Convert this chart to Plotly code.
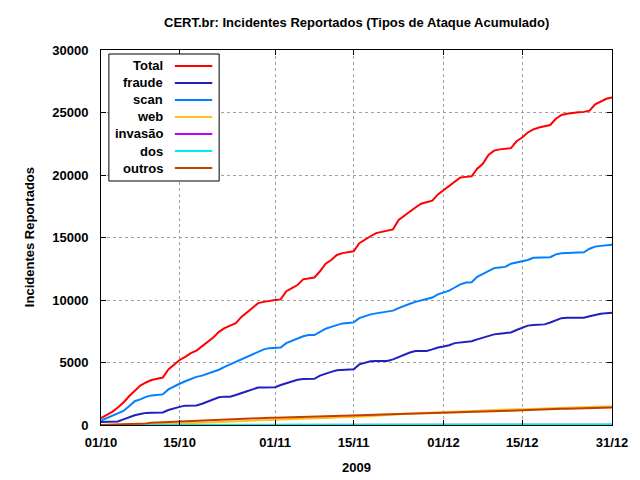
import datetime as dt
import plotly.graph_objects as go

start = dt.date(2009, 10, 1)
dates = [start + dt.timedelta(days=i) for i in range(92)]

total = [550, 800, 1050, 1400, 1800, 2300, 2750, 3150, 3400, 3600, 3700, 3800, 4450, 4850, 5200, 5450,
         5750, 5950, 6300, 6600, 7000, 7450, 7750, 7950, 8150, 8650, 9000, 9350, 9750, 9850, 9950,
         10000, 10050, 10700, 10950, 11200, 11650, 11750, 11800, 12300, 12900, 13200, 13600, 13750, 13800,
         13900, 14550, 14850, 15100, 15350, 15450, 15550, 15650, 16400, 16750, 17100, 17400, 17700, 17850,
         17950, 18450,
         18800, 19100, 19500, 19800, 19850, 19900, 20500, 20900, 21600, 21950, 22050, 22100, 22150, 22700,
         23000, 23400, 23650, 23800, 23900, 24000, 24500, 24800, 24900, 24980, 25020, 25050, 25150, 25650,
         25900, 26100, 26200]

fraude = [250, 260, 270, 280, 450, 620, 780, 880, 970, 990, 990, 1000, 1200, 1350, 1450, 1550,
          1550, 1560, 1700, 1870, 2050, 2220, 2270, 2270, 2400, 2580, 2700, 2850, 3000, 3010, 3010,
          3020, 3200, 3330, 3480, 3620, 3680, 3680, 3700, 3950, 4130, 4250, 4380, 4420, 4440,
          4460, 4850, 5000, 5100, 5120, 5120, 5130, 5250, 5450, 5650, 5800, 5920, 5920, 5930,
          6050, 6200,
          6280, 6380, 6550, 6590, 6600, 6700, 6850, 7000, 7150, 7250, 7300, 7330, 7400, 7600,
          7800, 7950, 8000, 8030, 8050, 8200, 8400, 8550, 8580, 8580, 8580, 8590, 8700, 8830,
          8900, 8950, 8980]

scan = [350, 550, 720, 950, 1120, 1500, 1900, 2050, 2250, 2370, 2400, 2450, 2850, 3100, 3300, 3500,
        3700, 3850, 3950, 4100, 4250, 4420, 4650, 4850, 5050, 5250, 5480, 5700, 5900, 6050, 6150,
        6180, 6200, 6550, 6750, 6900, 7100, 7200, 7200, 7450, 7700, 7850, 8000, 8130, 8170,
        8210, 8550, 8700, 8850, 8930, 8990, 9050, 9150, 9350, 9550, 9700, 9850, 9980, 10100,
        10200, 10450,
        10580, 10750, 11000, 11250, 11400, 11420, 11850, 12100, 12350, 12550, 12600, 12650, 12900, 12990,
        13050, 13200, 13380, 13390, 13390, 13420, 13650, 13740, 13760, 13780, 13800, 13820, 14100, 14270,
        14330, 14400, 14430]

web = [0, 0, 0, 0, 10, 20, 30, 40, 50, 60, 70, 80, 100, 110, 120, 130,
       140, 150, 170, 190, 220, 250, 270, 290, 300, 320, 340, 360, 380, 400, 420,
       430, 440, 450, 460, 470, 490, 510, 530, 550, 570, 590, 600, 610, 620,
       630, 650, 670, 700, 740, 780, 820, 850, 880, 900, 920, 940, 960, 980,
       1000, 1030,
       1060, 1080, 1100, 1120, 1140, 1160, 1180, 1200, 1210, 1220, 1230, 1240, 1250, 1260,
       1270, 1290, 1310, 1320, 1330, 1340, 1350, 1370, 1390, 1410, 1420, 1430, 1450, 1460,
       1470, 1480, 1490]

invasao = [0, 0, 0, 0, 0, 1, 1, 1, 2, 2, 2, 3, 3, 3, 4, 4,
           4, 5, 5, 5, 5, 6, 6, 6, 7, 7, 7, 8, 8, 8, 9,
           9, 9, 10, 10, 10, 10, 11, 11, 11, 12, 12, 12, 13, 13,
           13, 14, 14, 14, 15, 15, 15, 16, 16, 16, 17, 17, 17, 18,
           18, 18,
           19, 19, 19, 20, 20, 20, 21, 21, 21, 22, 22, 22, 23, 23,
           23, 24, 24, 24, 25, 25, 25, 26, 26, 26, 27, 27, 27, 28,
           28, 28, 29]

dos = [0, 0, 1, 1, 2, 2, 3, 3, 4, 4, 5, 5, 6, 6, 7, 7,
       8, 8, 9, 9, 10, 10, 11, 11, 12, 12, 13, 13, 14, 14, 15,
       15, 16, 16, 17, 17, 18, 18, 19, 19, 20, 20, 21, 21, 22,
       22, 23, 23, 24, 24, 25, 25, 26, 26, 27, 27, 28, 28, 29,
       29, 30,
       30, 31, 31, 32, 32, 33, 33, 34, 34, 35, 35, 36, 36, 37,
       37, 38, 38, 39, 39, 40, 40, 41, 41, 42, 42, 43, 43, 44,
       44, 45, 45]

outros = [0, 10, 20, 30, 40, 50, 70, 90, 130, 190, 210, 240, 270, 290, 310, 330,
          350, 370, 390, 410, 430, 450, 460, 470, 490, 510, 530, 545, 560, 570, 580,
          590, 600, 605, 610, 620, 630, 640, 650, 660, 670, 690, 700, 710, 730,
          750, 760, 780, 800, 820, 840, 850, 860, 880, 900, 920, 930, 940, 950,
          960, 970,
          980, 990, 1010, 1030, 1050, 1070, 1090, 1100, 1110, 1120, 1130, 1140, 1150, 1160,
          1180, 1230, 1240, 1250, 1260, 1270, 1280, 1300, 1310, 1320, 1330, 1340, 1350, 1370,
          1380, 1390, 1400]

series_names = ["Total", "fraude", "scan", "web", "invasão", "dos", "outros"]
series_values = [total, fraude, scan, web, invasao, dos, outros]
series_colors = ["#ff0000", "#2020c0", "#0080ff", "#ffc020", "#c000ff", "#00eeee", "#c04000"]

x_tick_dates = ["2009-10-01", "2009-10-15", "2009-11-01", "2009-11-15", "2009-12-01", "2009-12-15", "2009-12-31"]
x_tick_labels = ["01/10", "15/10", "01/11", "15/11", "01/12", "15/12", "31/12"]
y_tick_vals = [0, 5000, 10000, 15000, 20000, 25000, 30000]

title_text = "CERT.br: Incidentes Reportados (Tipos de Ataque Acumulado)"
x_title = "2009"
y_title = "Incidentes Reportados"

FONT = "Liberation Sans"
OFF = 8  # page body margin in the browser
W, H = 640 - OFF, 480 - OFF
L, T = 101 - OFF, 50 - OFF
PW, PH = 519, 375
R = W - L - PW
B = H - T - PH


def px(xs):
    return (xs - OFF - L) / PW


def py(ys):
    return (H - B - (ys - OFF)) / PH


fig = go.Figure()
for name, vals, col in zip(series_names, series_values, series_colors):
    fig.add_trace(go.Scatter(x=dates, y=vals, mode="lines", name=name,
                             line=dict(color=col, width=2), showlegend=False))

axis_common = dict(showline=True, linecolor="black", linewidth=1, mirror="ticks",
                   ticks="inside", ticklen=5, tickcolor="black", tickwidth=1,
                   showgrid=True, gridcolor="#a0a0a0", gridwidth=1, griddash="3px,3px",
                   zeroline=False,
                   tickfont=dict(family=FONT, size=13, color="black", weight="bold"))

fig.update_layout(
    width=W, height=H,
    margin=dict(l=L, r=R, t=T, b=B, pad=0),
    paper_bgcolor="white", plot_bgcolor="white",
    showlegend=False,
    xaxis=dict(type="date", range=["2009-10-01", "2009-12-31"],
               tickvals=x_tick_dates, ticktext=x_tick_labels,
               ticklabelstandoff=5, **axis_common),
    yaxis=dict(range=[0, 30000], tickvals=y_tick_vals,
               ticktext=[str(v) for v in y_tick_vals],
               ticklabelstandoff=9, **axis_common),
)

anns = [
    dict(text=title_text, x=px(360), y=py(22), xref="paper", yref="paper",
         xanchor="center", yanchor="middle", showarrow=False,
         font=dict(family=FONT, size=13, color="black", weight="bold")),
    dict(text=x_title, x=px(360), y=py(467), xref="paper", yref="paper",
         xanchor="center", yanchor="middle", showarrow=False,
         font=dict(family=FONT, size=13, color="black", weight="bold")),
    dict(text=y_title, x=px(28), y=py(237), xref="paper", yref="paper",
         xanchor="center", yanchor="middle", showarrow=False, textangle=-90,
         font=dict(family=FONT, size=13, color="black", weight="bold")),
]

shapes = [dict(type="rect", xref="paper", yref="paper",
               x0=px(109), x1=px(221), y0=py(54), y1=py(181),
               line=dict(color="black", width=1), fillcolor="white", layer="above")]

row_y0, row_dy = 66, 17
for i, (name, col) in enumerate(zip(series_names, series_colors)):
    yy = row_y0 + i * row_dy
    anns.append(dict(text=name, x=px(166), y=py(yy), xref="paper", yref="paper",
                     xanchor="right", yanchor="middle", showarrow=False,
                     font=dict(family=FONT, size=13, color="black", weight="bold")))
    shapes.append(dict(type="line", xref="paper", yref="paper",
                       x0=px(176), x1=px(214), y0=py(yy), y1=py(yy),
                       line=dict(color=col, width=2), layer="above"))

fig.update_layout(annotations=anns, shapes=shapes)
fig.write_html("out.html")
